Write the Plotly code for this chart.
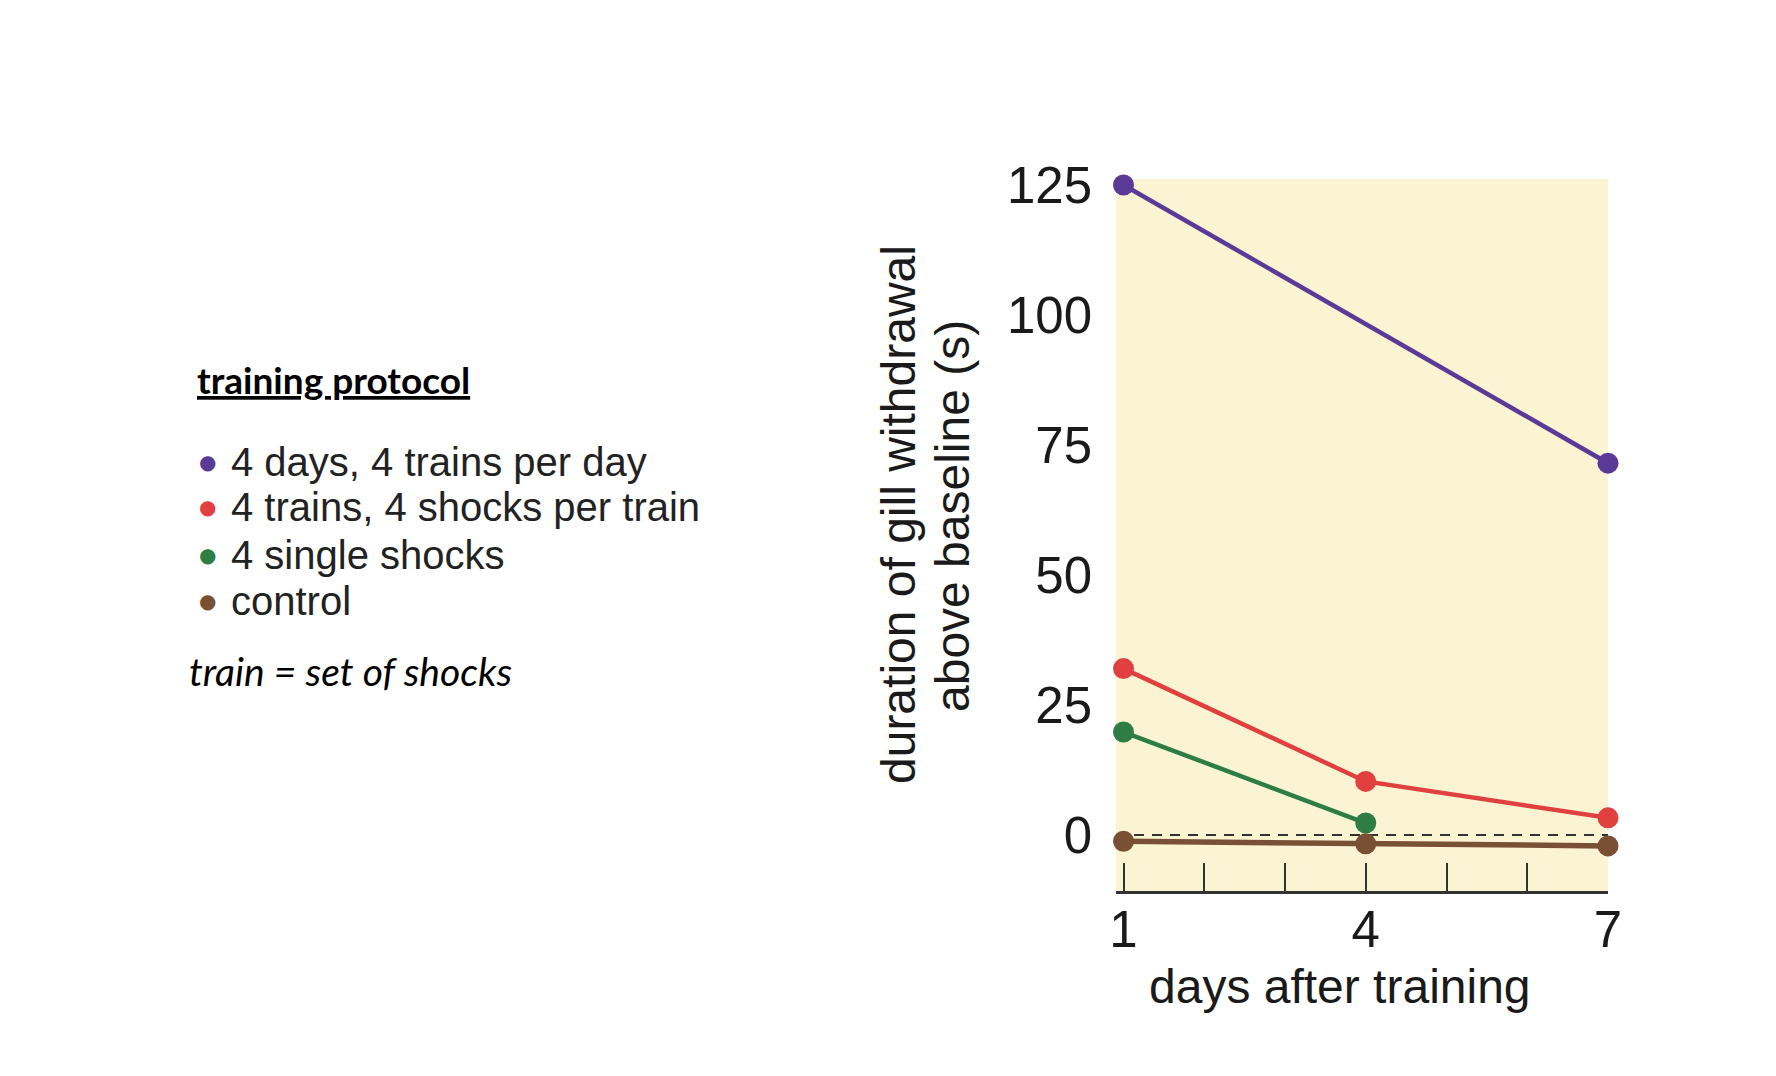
import plotly.graph_objects as go

# ---- data ----
days = [1, 4, 7]
days_purple = [1, 7]
series_names = ["4 days, 4 trains per day", "4 trains, 4 shocks per train", "4 single shocks", "control"]
purple_vals = [125, 71.5]
red_vals = [32.0, 10.3, 3.3]
green_vals = [19.8, 2.3]
brown_vals = [-1.2, -1.7, -2.1]
colors = ["#5B3A97", "#E0403F", "#2E7D45", "#7A5035"]
x_tickvals = [1, 2, 3, 4, 5, 6, 7]
x_ticktext = ["1", "", "", "4", "", "", "7"]
y_tickvals = [0, 25, 50, 75, 100, 125]

# page pixel geometry (page has an 8px body margin)
OFF = 8
W, H = 1776, 1076
L, R, T, B = 1116 - OFF, 1608 - OFF, 179 - OFF, 891 - OFF
def PX(px):
    return (px - OFF - L) / (R - L)
def PY(py):
    return (B - (py - OFF)) / (B - T)

fig = go.Figure()
traces = [
    (days_purple, purple_vals, colors[0], 4.5),
    (days, red_vals, colors[1], 4.5),
    (days[:2], green_vals, colors[2], 4.5),
    (days, brown_vals, colors[3], 5.5),
]
for (xs, ys, c, w), name in zip(traces, series_names):
    fig.add_trace(go.Scatter(
        x=xs, y=ys, mode="lines+markers", name=name,
        line=dict(color=c, width=w),
        marker=dict(color=c, size=21),
        showlegend=False, cliponaxis=False,
    ))

# baseline dashed line
fig.add_shape(type="line", xref="paper", x0=0, x1=1, yref="y", y0=0, y1=0,
              line=dict(color="#333333", width=2, dash="10px,8px"), layer="below")

ax_font = dict(family="Liberation Sans, Arial, sans-serif", size=48, color="#1a1a1a")
tick_font = dict(family="Liberation Sans, Arial, sans-serif", size=51, color="#1a1a1a")

fig.update_layout(
    width=W, height=H,
    margin=dict(l=L, r=W - R, t=T, b=H - B),
    paper_bgcolor="white",
    plot_bgcolor="#FAF4D3",
    xaxis=dict(
        range=[0.907, 7.0], tickvals=x_tickvals, ticktext=x_ticktext,
        ticks="inside", ticklen=28, tickwidth=2, tickcolor="#333333",
        showline=True, linecolor="#333333", linewidth=3,
        showgrid=False, zeroline=False, tickfont=tick_font,
        ticklabelstandoff=-8,
    ),
    yaxis=dict(
        range=[-10.77, 126.15], tickvals=y_tickvals,
        ticks="", showline=False, showgrid=False, zeroline=False,
        tickfont=tick_font, ticklabelstandoff=23,
    ),
)

annots = []
# axis titles
annots.append(dict(text="days after training", x=PX(1340), y=PY(986), xref="paper", yref="paper",
                   xanchor="center", yanchor="middle", showarrow=False, font=ax_font))
annots.append(dict(text="duration of gill withdrawal", x=PX(898), y=PY(515), xref="paper", yref="paper",
                   xanchor="center", yanchor="middle", showarrow=False, textangle=-90, font=ax_font))
annots.append(dict(text="above baseline (s)", x=PX(952), y=PY(516), xref="paper", yref="paper",
                   xanchor="center", yanchor="middle", showarrow=False, textangle=-90, font=ax_font))

# legend block on the left
annots.append(dict(text="<b><u>training protocol</u></b>", x=PX(195), y=PY(379), xref="paper", yref="paper",
                   xanchor="left", yanchor="middle", showarrow=False,
                   font=dict(family="Lato, Carlito, sans-serif", size=37, color="black")))
legend_y = [462, 507, 555, 601]
for name, c, ly in zip(series_names, colors, legend_y):
    annots.append(dict(text="●", x=PX(207), y=PY(ly), xref="paper", yref="paper",
                       xanchor="center", yanchor="middle", showarrow=False,
                       font=dict(family="DejaVu Sans, sans-serif", size=20, color=c)))
    annots.append(dict(text=name, x=PX(229), y=PY(ly), xref="paper", yref="paper",
                       xanchor="left", yanchor="middle", showarrow=False,
                       font=dict(family="Liberation Sans, Arial, sans-serif", size=40, color="#222222")))
annots.append(dict(text="<i>train = set of shocks</i>", x=PX(187), y=PY(671), xref="paper", yref="paper",
                   xanchor="left", yanchor="middle", showarrow=False,
                   font=dict(family="Lato, Carlito, sans-serif", size=39, color="black")))

fig.update_layout(annotations=annots)
fig.write_html("out.html")
